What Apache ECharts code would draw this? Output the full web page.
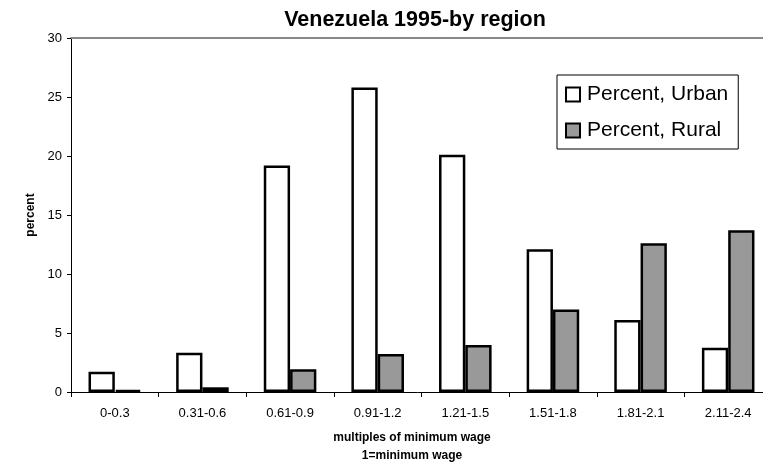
<!DOCTYPE html>
<html>
<head>
<meta charset="utf-8">
<script src="https://cdn.jsdelivr.net/npm/echarts@6/dist/echarts.min.js"></script>
<style>html,body{margin:0;padding:0;background:#fff}#c{width:763px;height:467px}</style>
</head>
<body>
<div id="c"></div>
<script>
const categories = ['0-0.3','0.31-0.6','0.61-0.9','0.91-1.2','1.21-1.5','1.51-1.8','1.81-2.1','2.11-2.4'];
const urban = [1.72, 3.33, 19.2, 25.8, 20.1, 12.1, 6.1, 3.75];
const rural = [0.15, 0.4, 1.92, 3.22, 3.98, 7.0, 12.6, 13.7];
const yTicks = [0, 5, 10, 15, 20, 25, 30];
const titleText = 'Venezuela 1995-by region';
const xName = 'multiples of minimum wage\n1=minimum wage';
const yName = 'percent';

const F = 'Arial, "Liberation Sans", Helvetica, sans-serif';
const chart = echarts.init(document.getElementById('c'), null, {renderer: 'canvas'});
chart.setOption({
  animation: false,
  backgroundColor: '#fff',
  title: {
    text: titleText, left: 410, top: 4, textAlign: 'center',
    textStyle: {fontFamily: F, fontSize: 21.5, fontWeight: 'bold', color: '#000'}
  },
  legend: {
    orient: 'vertical', left: 557, top: 75,
    padding: [9, 10, 8, 8], itemGap: 15,
    itemWidth: 14, itemHeight: 14, icon: 'rect',
    borderColor: '#000', borderWidth: 1,
    textStyle: {fontFamily: F, fontSize: 21, color: '#000', padding: [0,0,0,2]},
    data: ['Percent, Urban', 'Percent, Rural']
  },
  grid: {left: 71, top: 38, width: 701, bottom: 75, containLabel: false, outerBoundsMode: 'none'},
  xAxis: [{
    type: 'category', data: categories,
    axisLine: {lineStyle: {color: '#000', width: 1}},
    axisTick: {show: true, length: 5, inside: false, lineStyle: {color: '#000'}},
    axisLabel: {fontFamily: F, fontSize: 13, color: '#000', margin: 15},
    name: xName, nameLocation: 'middle', nameGap: 37,
    nameTextStyle: {fontFamily: F, fontSize: 12, fontWeight: 'bold', color: '#000', lineHeight: 18, padding: [0, 19, 0, 0]}
  }, {
    type: 'category', data: categories, position: 'top',
    axisLine: {lineStyle: {color: '#888', width: 2}},
    axisTick: {show: false}, axisLabel: {show: false}
  }],
  yAxis: {
    type: 'value', min: 0, max: 30, interval: 5,
    axisLine: {show: true, lineStyle: {color: '#000', width: 1}},
    axisTick: {show: true, length: 4, lineStyle: {color: '#000'}},
    splitLine: {show: false},
    axisLabel: {fontFamily: F, fontSize: 13, color: '#000', margin: 9,
      formatter: v => yTicks.includes(v) ? String(v) : ''},
    name: yName, nameLocation: 'middle', nameGap: 33, nameRotate: 90,
    nameTextStyle: {fontFamily: F, fontSize: 12, fontWeight: 'bold', color: '#000'}
  },
  series: [{
    name: 'Percent, Urban', type: 'bar', data: urban,
    barGap: '0%', barCategoryGap: '40%',
    itemStyle: {color: '#fff', borderColor: '#000', borderWidth: 2.5}
  }, {
    name: 'Percent, Rural', type: 'bar', data: rural,
    barGap: '0%', barCategoryGap: '40%',
    itemStyle: {color: '#999999', borderColor: '#000', borderWidth: 2.5}
  }]
});
</script>
</body>
</html>
